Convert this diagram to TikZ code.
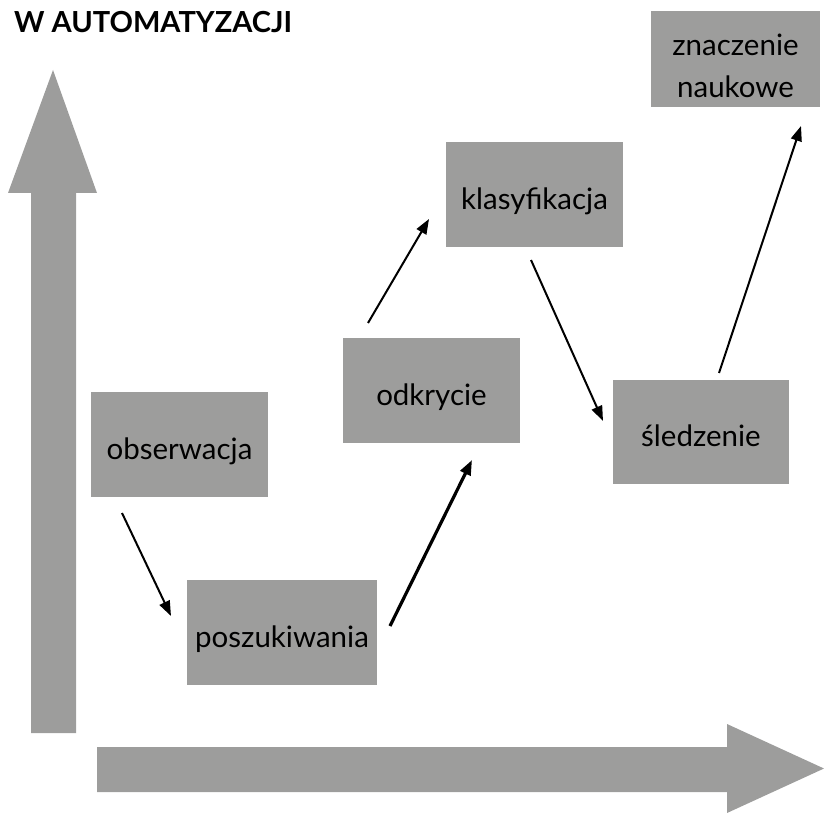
\documentclass[tikz,border=0pt]{standalone}
\usepackage{fontspec}
\setmainfont{Lato}
\usetikzlibrary{arrows.meta}
\definecolor{boxgray}{HTML}{9D9D9C}
\tikzset{
  stagebox/.style={fill=boxgray, inner sep=0pt, align=center, font=\fontsize{29.5}{42}\selectfont, text=black, text height=32pt, text depth=3pt},
  flow/.style={-{Triangle[length=15pt,width=11pt]}, line width=2pt, black},
  flowthick/.style={-{Triangle[length=15pt,width=11pt]}, line width=3.2pt, black},
  bigarrow/.style={fill=boxgray, draw=none}
}
\begin{document}
\begin{tikzpicture}[x=1pt,y=-1pt]
\useasboundingbox (0,0) rectangle (824,813);
% big axes arrows
\fill[bigarrow] (31,733) -- (31,193) -- (8,193) -- (53,70) -- (97,193) -- (76,193) -- (76,733) -- cycle;
\fill[bigarrow] (97,747) -- (727,747) -- (727,724) -- (824,768.5) -- (727,813) -- (727,792) -- (97,792) -- cycle;
% title
\node[anchor=base west, inner sep=0pt, font=\fontsize{29}{33}\selectfont\bfseries] (title) at (14,33) {W AUTOMATYZACJI};
% boxes
\node[stagebox, minimum width=177pt, minimum height=105pt] (obs) at (179.5,444.5) {obserwacja};
\node[stagebox, minimum width=190pt, minimum height=105pt] (posz) at (282,632.5) {poszukiwania};
\node[stagebox, minimum width=177pt, minimum height=105pt] (odk) at (431.5,390.5) {odkrycie};
\node[stagebox, minimum width=177pt, minimum height=105pt] (klas) at (534.5,194.5) {klasyfikacja};
\node[stagebox, minimum width=176pt, minimum height=104pt] (sled) at (701,432) {śledzenie};
\node[stagebox, minimum width=169pt, minimum height=96pt, text height={}, text depth={}] (znacz) at (735.5,59) {\rule{0pt}{35pt}znaczenie\\naukowe};
% connector end points
\coordinate (a1) at (122,513);
\coordinate (a2) at (171,616);
\coordinate (b1) at (390,626);
\coordinate (b2) at (472,460);
\coordinate (c1) at (368,323);
\coordinate (c2) at (429,219);
\coordinate (d1) at (531,260);
\coordinate (d2) at (603,421);
\coordinate (e1) at (719,373);
\coordinate (e2) at (801,126);
\draw[flow] (a1) -- (a2);
\draw[flowthick] (b1) -- (b2);
\draw[flow] (c1) -- (c2);
\draw[flow] (d1) -- (d2);
\draw[flow] (e1) -- (e2);
\end{tikzpicture}
\end{document}
